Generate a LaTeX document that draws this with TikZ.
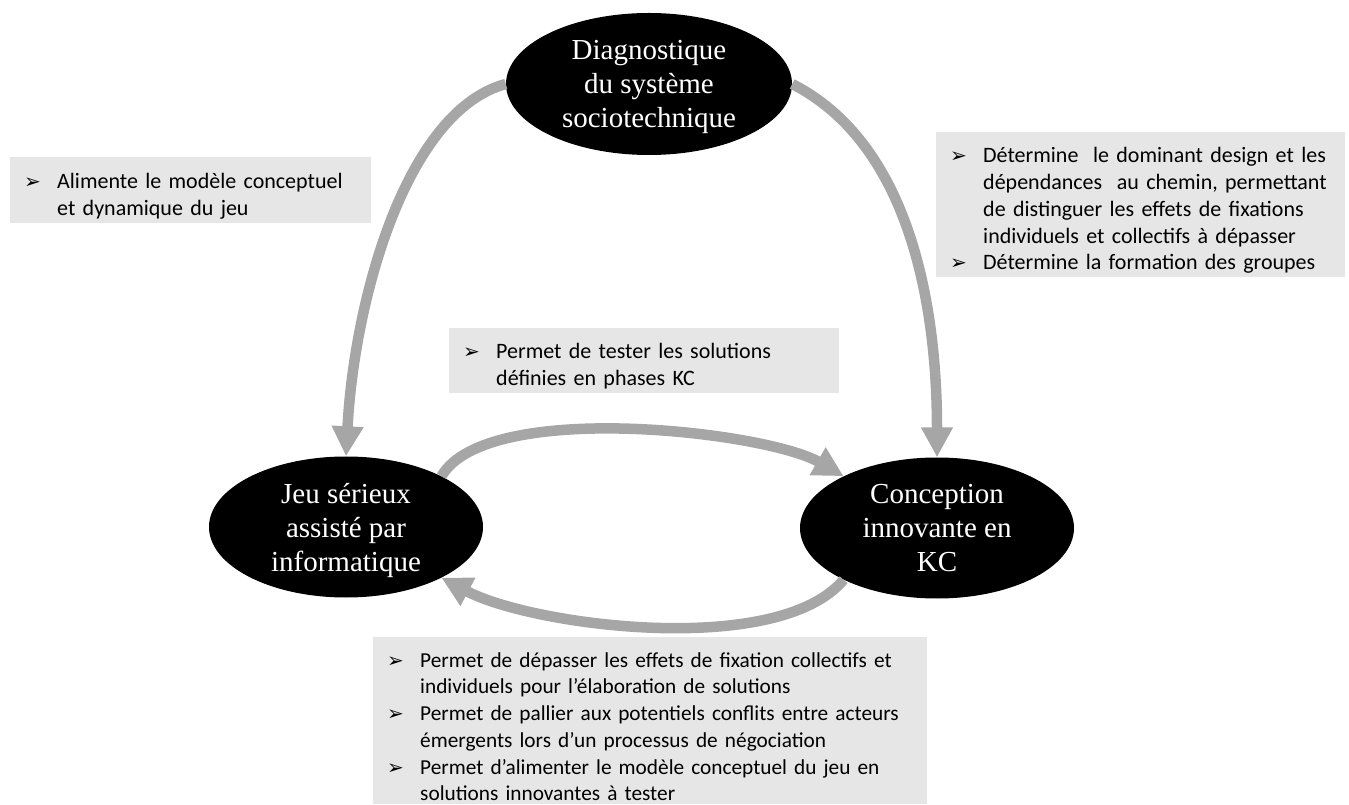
\documentclass[tikz,border=0pt]{standalone}
\usepackage{fontspec}
\setmainfont{Liberation Serif}
\newfontfamily\notefont{Carlito}
\newfontfamily\pucefont{DejaVu Sans}
\usepackage{tikz}
\usetikzlibrary{arrows.meta,shapes.geometric}
\usetikzlibrary{positioning}

\definecolor{fondnote}{RGB}{230,230,230}
\definecolor{gristrait}{RGB}{166,166,166}

\newcommand{\puce}[1]{\par\noindent\hangindent=33pt\hangafter=1\makebox[33pt][l]{\pucefont\fontsize{20}{20}\selectfont ➢}#1\par}

\tikzset{
    phase/.style={
      ellipse,
           fill=black,
           text=white,
           inner sep=0pt,
           align=center,
           text depth=0pt,
           minimum width=274pt,
           minimum height=141pt,
           font=\fontsize{29}{34}\selectfont,
           },
}
\tikzset{
    note/.style={
      rectangle,
           fill=fondnote,
           anchor=north west,
           inner xsep=14pt,
           inner ysep=0pt,
           align=left,
           font=\notefont\fontsize{22}{26.8}\selectfont,
           execute at begin node={\hyphenpenalty=10000\relax},
           },
}
\tikzset{
    lien/.style={
      -{Triangle[length=30pt,width=30pt]},
           draw=gristrait,
           line width=10.5pt,
           },
}

\begin{document}
\begin{tikzpicture}[x=1pt,y=1pt]

\useasboundingbox (0,0) rectangle (1349,804);

\node[phase,minimum width=286pt,minimum height=142pt](diag) at (649,720){Diagnostique\\du système\\sociotechnique};
\node[phase](jeu) at (346,277){Jeu sérieux\\assisté par\\informatique};
\node[phase](conc) at (937,276){Conception\\innovante en\\KC};

\path (diag.west) edge[lien,out=195,in=87,out looseness=0.65](jeu.north);
\path (diag.east) edge[lien,out=-27,in=90,out looseness=0.83](conc.north);

\path (jeu.28) edge[lien,out=60,in=150,looseness=0.57](conc.151);
\path (conc.209) edge[lien,out=230,in=-28,looseness=0.65](jeu.332);

\node[note,text width=333pt,minimum height=66pt](alim) at (10,647){\puce{Alimente le modèle conceptuel\newline et dynamique du jeu}};

\node[note,text width=381pt,minimum height=145pt](determ) at (936,672){\puce{Détermine \ le dominant design et les\newline dépendances \ au chemin, permettant\newline de distinguer les effets de fixations\newline individuels et collectifs à dépasser}
\puce{Détermine la formation des groupes}};

\node[note,text width=362pt,minimum height=65pt](tester) at (449,476){\puce{Permet de tester les solutions\newline définies en phases KC}};

\node[note,text width=526pt,minimum height=167pt,font=\notefont\fontsize{21.3}{26.7}\selectfont](depasser) at (373,167){\puce{Permet de dépasser les effets de fixation collectifs et\newline individuels pour l’élaboration de solutions}
\puce{Permet de pallier aux potentiels conflits entre acteurs\newline émergents lors d’un processus de négociation}
\puce{Permet d’alimenter le modèle conceptuel du jeu en\newline solutions innovantes à tester}};

\end{tikzpicture}
\end{document}
